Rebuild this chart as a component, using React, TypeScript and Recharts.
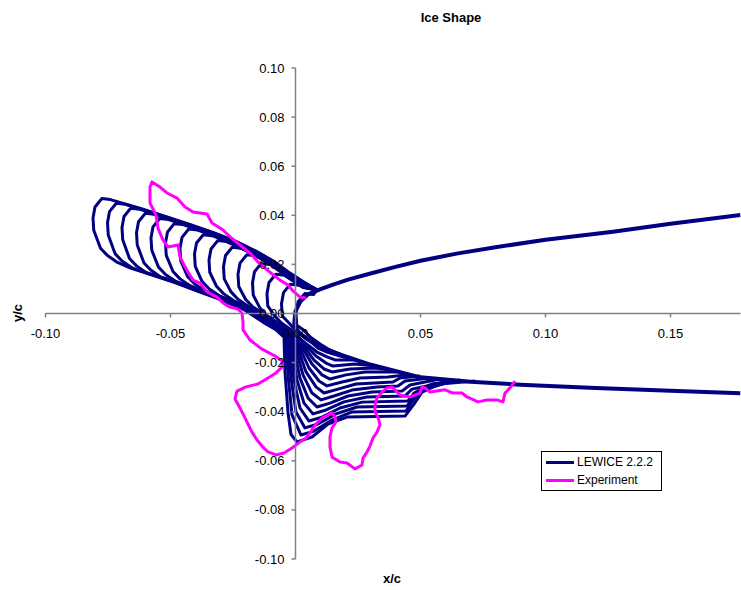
import { LineChart, Line, XAxis, YAxis, ReferenceLine, ReferenceDot } from 'recharts';

type Pt = [number, number];

const FONT = '"Liberation Sans", Arial, sans-serif';
const NAVY = '#000080';
const MAGENTA = '#ff00ff';
const AXIS = '#808080';

const xTicks = [-0.1, -0.05, 0, 0.05, 0.1, 0.15];
const yTicks = [0.1, 0.08, 0.06, 0.04, 0.02, 0, -0.02, -0.04, -0.06, -0.08, -0.1];

// clean airfoil, upper TE -> leading edge -> lower TE
const cleanAirfoil: Pt[] = [
  [0.178, 0.0401], [0.15, 0.0366], [0.127, 0.0333], [0.1, 0.03], [0.08, 0.027], [0.065, 0.0245],
  [0.05, 0.0215], [0.04, 0.019], [0.03, 0.0163], [0.021, 0.0138], [0.015, 0.0118], [0.0098, 0.0098],
  [0.005, 0.0078], [0.002, 0.005], [0.0, 0.001], [-0.0005, -0.004], [0.001, -0.0075], [0.004, -0.01],
  [0.008, -0.0125], [0.015, -0.0157], [0.029, -0.0205], [0.05, -0.026], [0.07, -0.0278], [0.09, -0.029],
  [0.12, -0.0303], [0.15, -0.0315], [0.178, -0.0325],
];

// LEWICE ice layers, outermost first
const layer01: Pt[] = [
  [0.0086, 0.0096], [0.003, 0.013], [-0.003, 0.017], [-0.009, 0.0215], [-0.016, 0.0255], [-0.024, 0.0295],
  [-0.033, 0.033], [-0.042, 0.0362], [-0.052, 0.0395], [-0.062, 0.0428], [-0.074, 0.0464], [-0.0775, 0.0468],
  [-0.0802, 0.0434], [-0.081, 0.0389], [-0.0807, 0.0339], [-0.078, 0.0266], [-0.0752, 0.0236], [-0.0712, 0.0208],
  [-0.066, 0.0185], [-0.057, 0.0155], [-0.048, 0.0125], [-0.039, 0.009], [-0.03, 0.0057], [-0.021, 0.0018],
  [-0.013, -0.0035], [-0.008, -0.0065], [-0.0046, -0.0096], [-0.0042, -0.0238], [-0.003, -0.0403],
  [-0.0018, -0.0493], [0.0006, -0.0523], [0.0066, -0.0503], [0.013, -0.045], [0.0206, -0.0422],
  [0.0438, -0.0418], [0.0474, -0.0369], [0.0506, -0.032], [0.0578, -0.0287], [0.0718, -0.0275],
];
const layer02: Pt[] = [
  [0.0086, 0.0096], [0.003, 0.0128], [-0.003, 0.0168], [-0.009, 0.0213], [-0.016, 0.0253], [-0.024, 0.0293],
  [-0.033, 0.0328], [-0.042, 0.036], [-0.052, 0.0393], [-0.062, 0.0426], [-0.0682, 0.0445], [-0.0717, 0.0449],
  [-0.0744, 0.0415], [-0.0752, 0.037], [-0.0749, 0.032], [-0.0722, 0.0244], [-0.0694, 0.0214], [-0.0654, 0.0186],
  [-0.057, 0.0157], [-0.048, 0.0127], [-0.039, 0.0092], [-0.03, 0.0059], [-0.021, 0.002], [-0.013, -0.0033],
  [-0.008, -0.0063], [-0.004, -0.0097], [-0.003, -0.025], [-0.0014, -0.0413], [0.0022, -0.0495],
  [0.0074, -0.0479], [0.0146, -0.0434], [0.0226, -0.0401], [0.0442, -0.0397], [0.0474, -0.0348],
  [0.0518, -0.0308], [0.0618, -0.0279],
];
const layer03: Pt[] = [
  [0.0086, 0.0096], [0.003, 0.0126], [-0.003, 0.0166], [-0.009, 0.0211], [-0.016, 0.0251], [-0.024, 0.0291],
  [-0.033, 0.0326], [-0.042, 0.0358], [-0.052, 0.0391], [-0.0624, 0.0425], [-0.0659, 0.0429], [-0.0686, 0.0395],
  [-0.0694, 0.035], [-0.0691, 0.03], [-0.0664, 0.0224], [-0.0636, 0.0194], [-0.0596, 0.0166], [-0.048, 0.0129],
  [-0.039, 0.0094], [-0.03, 0.0061], [-0.021, 0.0022], [-0.013, -0.0031], [-0.008, -0.0061], [-0.0034, -0.0098],
  [-0.0018, -0.0262], [0.0002, -0.0401], [0.0038, -0.0466], [0.009, -0.045], [0.0162, -0.0409],
  [0.0246, -0.0381], [0.0446, -0.0377], [0.0474, -0.0336], [0.053, -0.0295], [0.0638, -0.0271],
];
const layer04: Pt[] = [
  [0.0086, 0.0096], [0.003, 0.0124], [-0.003, 0.0164], [-0.009, 0.0209], [-0.016, 0.0249], [-0.024, 0.0289],
  [-0.033, 0.0324], [-0.042, 0.0356], [-0.052, 0.0389], [-0.0566, 0.0404], [-0.0601, 0.0408], [-0.0628, 0.0374],
  [-0.0636, 0.0329], [-0.0633, 0.0279], [-0.0606, 0.0206], [-0.0578, 0.0176], [-0.0538, 0.0148], [-0.048, 0.0131],
  [-0.039, 0.0096], [-0.03, 0.0063], [-0.021, 0.0024], [-0.013, -0.0029], [-0.008, -0.0059], [-0.0028, -0.01],
  [-0.0006, -0.0271], [0.0018, -0.0385], [0.0054, -0.0438], [0.0106, -0.0422], [0.0178, -0.0385],
  [0.0266, -0.0361], [0.045, -0.0356], [0.0474, -0.0324], [0.0546, -0.0287], [0.0658, -0.0271],
];
const layer05: Pt[] = [
  [0.0086, 0.0096], [0.003, 0.0122], [-0.003, 0.0162], [-0.009, 0.0207], [-0.016, 0.0247], [-0.024, 0.0287],
  [-0.033, 0.0322], [-0.042, 0.0354], [-0.0508, 0.0383], [-0.0543, 0.0387], [-0.057, 0.0353], [-0.0578, 0.0308],
  [-0.0575, 0.0258], [-0.0548, 0.0189], [-0.052, 0.0159], [-0.048, 0.0131], [-0.039, 0.0098], [-0.03, 0.0065],
  [-0.021, 0.0026], [-0.013, -0.0027], [-0.008, -0.0057], [-0.0022, -0.0101], [0.0006, -0.0271],
  [0.0034, -0.0365], [0.007, -0.0409], [0.0122, -0.0393], [0.0194, -0.036], [0.0286, -0.034],
  [0.0438, -0.0336], [0.0466, -0.0308], [0.0618, -0.0275],
];
const layer06: Pt[] = [
  [0.0086, 0.0096], [0.003, 0.012], [-0.003, 0.016], [-0.009, 0.0205], [-0.016, 0.0245], [-0.024, 0.0285],
  [-0.033, 0.032], [-0.045, 0.0362], [-0.0485, 0.0366], [-0.0512, 0.0332], [-0.052, 0.0287], [-0.0517, 0.0237],
  [-0.049, 0.0171], [-0.0462, 0.0141], [-0.0422, 0.0113], [-0.039, 0.01], [-0.03, 0.0067], [-0.021, 0.0028],
  [-0.013, -0.0025], [-0.008, -0.0055], [-0.0016, -0.0102], [0.0018, -0.0263], [0.005, -0.0344],
  [0.0086, -0.0381], [0.0138, -0.0365], [0.021, -0.0336], [0.0306, -0.032], [0.0426, -0.0316],
  [0.0458, -0.0291], [0.0578, -0.0267],
];
const layer07: Pt[] = [
  [0.0086, 0.0096], [0.003, 0.0118], [-0.003, 0.0158], [-0.009, 0.0203], [-0.016, 0.0243], [-0.024, 0.0283],
  [-0.033, 0.0318], [-0.0392, 0.034], [-0.0427, 0.0344], [-0.0454, 0.031], [-0.0462, 0.0265], [-0.0459, 0.0215],
  [-0.0432, 0.0151], [-0.0404, 0.0121], [-0.0364, 0.0093], [-0.03, 0.0069], [-0.021, 0.003], [-0.013, -0.0023],
  [-0.008, -0.0053], [-0.001, -0.0103], [0.003, -0.025], [0.0066, -0.0324], [0.0102, -0.0352],
  [0.0154, -0.0336], [0.0226, -0.0312], [0.0326, -0.0299], [0.041, -0.0295], [0.0438, -0.0275], [0.0538, -0.0263],
];
const layer08: Pt[] = [
  [0.0086, 0.0096], [0.003, 0.0116], [-0.003, 0.0156], [-0.009, 0.0201], [-0.016, 0.0241], [-0.024, 0.0281],
  [-0.0334, 0.0317], [-0.0369, 0.0321], [-0.0396, 0.0287], [-0.0404, 0.0242], [-0.0401, 0.0192],
  [-0.0374, 0.0131], [-0.0346, 0.0101], [-0.0306, 0.0073], [-0.021, 0.0032], [-0.013, -0.0021], [-0.008, -0.0051],
  [-0.0004, -0.0104], [0.0042, -0.0238], [0.0082, -0.0299], [0.0114, -0.0324], [0.017, -0.0308],
  [0.0242, -0.0287], [0.039, -0.0279], [0.0418, -0.0263], [0.0498, -0.0255],
];
const layer09: Pt[] = [
  [0.0086, 0.0096], [0.003, 0.0114], [-0.003, 0.0154], [-0.009, 0.0199], [-0.016, 0.0239], [-0.0276, 0.0293],
  [-0.0311, 0.0297], [-0.0338, 0.0263], [-0.0346, 0.0218], [-0.0343, 0.0168], [-0.0316, 0.0111],
  [-0.0288, 0.0081], [-0.0248, 0.0053], [-0.021, 0.0034], [-0.013, -0.0019], [-0.008, -0.0049], [0.0002, -0.0106],
  [0.0054, -0.0222], [0.0094, -0.0275], [0.0126, -0.0295], [0.0186, -0.0279], [0.0258, -0.0263],
  [0.037, -0.0259], [0.0458, -0.0248],
];
const layer10: Pt[] = [
  [0.0086, 0.0096], [0.003, 0.0112], [-0.003, 0.0152], [-0.009, 0.0197], [-0.016, 0.0237], [-0.0218, 0.0266],
  [-0.0253, 0.027], [-0.028, 0.0236], [-0.0288, 0.0191], [-0.0285, 0.0141], [-0.0258, 0.0088],
  [-0.023, 0.0058], [-0.019, 0.003], [-0.013, -0.0017], [-0.008, -0.0047], [0.0008, -0.0107], [0.0066, -0.0206],
  [0.0106, -0.025], [0.0138, -0.0267], [0.0202, -0.025], [0.0278, -0.0238], [0.0418, -0.0238],
];
const layer11: Pt[] = [
  [0.0086, 0.0096], [0.003, 0.011], [-0.003, 0.015], [-0.009, 0.0195], [-0.016, 0.0235], [-0.0195, 0.0239],
  [-0.0222, 0.0205], [-0.023, 0.016], [-0.0227, 0.011], [-0.02, 0.0058], [-0.0172, 0.0028], [-0.0132, 0.0],
  [-0.008, -0.0045], [0.0014, -0.0108], [0.0074, -0.019], [0.0114, -0.0226], [0.0146, -0.0238],
  [0.0218, -0.0226], [0.0318, -0.0222], [0.0378, -0.023],
];
const layer12: Pt[] = [
  [0.0086, 0.0096], [0.003, 0.0108], [-0.003, 0.0148], [-0.0102, 0.02], [-0.0137, 0.0204], [-0.0164, 0.017],
  [-0.0172, 0.0125], [-0.0169, 0.0075], [-0.0142, 0.0022], [-0.0114, -0.0008], [-0.0074, -0.0036],
  [0.002, -0.0109], [0.0082, -0.0173], [0.0122, -0.0202], [0.015, -0.0214], [0.0238, -0.0206], [0.0318, -0.0214],
];
const layer13: Pt[] = [
  [0.0086, 0.0096], [0.003, 0.0106], [-0.0044, 0.0156], [-0.0079, 0.016], [-0.0106, 0.0126], [-0.0114, 0.0081],
  [-0.0111, 0.0031], [-0.0084, -0.0009], [-0.0056, -0.0039], [-0.0016, -0.0067], [0.0026, -0.011],
  [0.0086, -0.0157], [0.0126, -0.0177], [0.0158, -0.0189], [0.0238, -0.0189], [0.029, -0.0206],
];
const layer14: Pt[] = [
  [0.0086, 0.0096], [0.0014, 0.0115], [-0.0021, 0.0119], [-0.0048, 0.0085], [-0.0056, 0.004],
  [-0.0053, -0.001], [-0.0026, -0.0039], [0.0002, -0.0069], [0.0042, -0.0097], [0.009, -0.0141],
  [0.0126, -0.0157], [0.0178, -0.0173], [0.0238, -0.0189],
];
const layer15: Pt[] = [
  [0.0086, 0.0096], [0.0072, 0.0077], [0.0037, 0.0081], [0.001, 0.0047], [0.0002, 0.0002], [0.0005, -0.0048],
  [0.0032, -0.0067], [0.006, -0.0097], [0.01, -0.0125], [0.013, -0.0145], [0.0186, -0.0169],
];

const lewiceLayers: Pt[][] = [
  layer01, layer02, layer03, layer04, layer05, layer06, layer07, layer08,
  layer09, layer10, layer11, layer12, layer13, layer14, layer15,
];

// measured ice tracing
const experiment: Pt[] = [
  [0.0042, 0.0063], [0.0018, 0.0067], [-0.001, 0.0092], [-0.003, 0.0116], [-0.0062, 0.0136], [-0.0094, 0.0161],
  [-0.0122, 0.0185], [-0.015, 0.021], [-0.0182, 0.0246], [-0.0222, 0.0279], [-0.0262, 0.0312], [-0.029, 0.034],
  [-0.0334, 0.0369], [-0.0354, 0.0405], [-0.041, 0.0413], [-0.0442, 0.0434], [-0.0474, 0.047], [-0.0514, 0.0491],
  [-0.0542, 0.0515], [-0.0574, 0.0536], [-0.0582, 0.0515], [-0.0582, 0.045], [-0.0558, 0.0401], [-0.055, 0.0348],
  [-0.053, 0.0299], [-0.051, 0.0271], [-0.047, 0.0279], [-0.0462, 0.023], [-0.0446, 0.0198], [-0.043, 0.0169],
  [-0.041, 0.0136], [-0.0382, 0.0124], [-0.0354, 0.0088], [-0.0314, 0.0067], [-0.029, 0.0043], [-0.0262, 0.0026],
  [-0.023, 0.0018], [-0.0214, 0.0002], [-0.021, -0.0035], [-0.021, -0.0067], [-0.0182, -0.0108],
  [-0.0134, -0.0145], [-0.0082, -0.0173], [-0.0054, -0.0193], [-0.0054, -0.0218], [-0.0078, -0.0242],
  [-0.011, -0.0263], [-0.015, -0.0287], [-0.0198, -0.0299], [-0.0234, -0.0316], [-0.0242, -0.0348],
  [-0.0222, -0.0385], [-0.0206, -0.0417], [-0.019, -0.045], [-0.0174, -0.0483], [-0.0154, -0.0515],
  [-0.0134, -0.054], [-0.011, -0.0564], [-0.0078, -0.0576], [-0.0046, -0.0568], [-0.0014, -0.0548],
  [0.0018, -0.0523], [0.0042, -0.0507], [0.0058, -0.0487], [0.007, -0.0466], [0.0086, -0.0446],
  [0.0106, -0.0426], [0.013, -0.0413], [0.0146, -0.0405], [0.0158, -0.0422], [0.0162, -0.0442],
  [0.0146, -0.0466], [0.0138, -0.0503], [0.0138, -0.0544], [0.0146, -0.0585], [0.0178, -0.0605],
  [0.0206, -0.0609], [0.0238, -0.0633], [0.0266, -0.0617], [0.027, -0.0589], [0.0286, -0.0564],
  [0.0298, -0.054], [0.031, -0.0507], [0.0326, -0.0483], [0.0338, -0.0454], [0.033, -0.0422],
  [0.0318, -0.0401], [0.0318, -0.0373], [0.0326, -0.0344], [0.0346, -0.032], [0.0366, -0.0303],
  [0.0386, -0.0299], [0.0398, -0.0311], [0.0418, -0.0332], [0.0458, -0.034], [0.0498, -0.0324],
  [0.0506, -0.0299], [0.0518, -0.0303], [0.0538, -0.032], [0.0598, -0.0311], [0.063, -0.0324],
  [0.0666, -0.0324], [0.0686, -0.034], [0.073, -0.036], [0.0766, -0.0352], [0.0806, -0.0352],
  [0.083, -0.036], [0.0838, -0.0324], [0.0858, -0.0303], [0.0878, -0.0275],
];

const toRows = (pts: Pt[]) => pts.map(([x, y]) => ({ x, y }));

const fmt = (v: number) => v.toFixed(2);

function XTickMark({ cx, cy, text }: any) {
  return (
    <g>
      <line x1={cx} y1={cy} x2={cx} y2={cy + 4} stroke={AXIS} strokeWidth={1.5} />
      <text x={cx} y={cy + 24} textAnchor="middle" fontSize={13} fontFamily={FONT} fill="#000">
        {text}
      </text>
    </g>
  );
}

function YTickMark({ cx, cy, text }: any) {
  return (
    <g>
      <line x1={cx - 4} y1={cy} x2={cx} y2={cy} stroke={AXIS} strokeWidth={1.5} />
      <text x={cx - 11} y={cy} dy="0.35em" textAnchor="end" fontSize={13} fontFamily={FONT} fill="#000">
        {text}
      </text>
    </g>
  );
}

function LegendBox() {
  const row = (color: string, label: string, top: number) => (
    <div style={{ position: 'absolute', left: 4, top, height: 16, display: 'flex', alignItems: 'center' }}>
      <div style={{ width: 28, height: 3, background: color }} />
      <span style={{ marginLeft: 3, fontSize: 12, lineHeight: '16px' }}>{label}</span>
    </div>
  );
  return (
    <div
      style={{
        position: 'absolute',
        left: 541,
        top: 451,
        width: 119,
        height: 38,
        border: '1px solid #000',
        background: '#fff',
      }}
    >
      {row(NAVY, 'LEWICE 2.2.2', 2)}
      {row(MAGENTA, 'Experiment', 20)}
    </div>
  );
}

export default function App() {
  return (
    <div
      style={{
        position: 'absolute',
        left: 0,
        top: 0,
        width: 741,
        height: 590,
        overflow: 'hidden',
        background: '#fff',
        fontFamily: FONT,
        color: '#000',
      }}
    >
      <LineChart width={741} height={590} margin={{ top: 68, right: 0.5, bottom: 31, left: 45.5 }}>
        <XAxis type="number" dataKey="x" domain={[-0.1, 0.178]} allowDataOverflow hide />
        <YAxis type="number" dataKey="y" domain={[-0.1, 0.1]} allowDataOverflow hide />
        <Line
          data={toRows(cleanAirfoil)}
          dataKey="y"
          type="linear"
          stroke={NAVY}
          strokeWidth={4}
          strokeLinejoin="round"
          dot={false}
          activeDot={false}
          isAnimationActive={false}
        />
        {lewiceLayers.map((pts, i) => (
          <Line
            key={`lw${i}`}
            data={toRows(pts)}
            dataKey="y"
            type="linear"
            stroke={NAVY}
            strokeWidth={3}
            strokeLinejoin="round"
            dot={false}
            activeDot={false}
            isAnimationActive={false}
          />
        ))}
        <Line
          data={toRows(experiment)}
          dataKey="y"
          type="linear"
          stroke={MAGENTA}
          strokeWidth={3}
          strokeLinejoin="round"
          dot={false}
          activeDot={false}
          isAnimationActive={false}
        />
        <ReferenceLine y={0} stroke={AXIS} strokeWidth={1.5} />
        <ReferenceLine x={0} stroke={AXIS} strokeWidth={1.5} />
        {xTicks.map((v) => (
          <ReferenceDot
            key={`xt${v}`}
            x={v}
            y={0}
            r={0}
            ifOverflow="visible"
            shape={(p: any) => <XTickMark cx={p.cx} cy={p.cy} text={fmt(v)} />}
          />
        ))}
        {yTicks.map((v) => (
          <ReferenceDot
            key={`yt${v}`}
            x={0}
            y={v}
            r={0}
            ifOverflow="visible"
            shape={(p: any) => <YTickMark cx={p.cx} cy={p.cy} text={fmt(v)} />}
          />
        ))}
      </LineChart>
      <div
        style={{
          position: 'absolute',
          left: 351,
          top: 10,
          width: 200,
          textAlign: 'center',
          fontSize: 13,
          fontWeight: 'bold',
        }}
      >
        Ice Shape
      </div>
      <div
        style={{
          position: 'absolute',
          left: 342,
          top: 571,
          width: 100,
          textAlign: 'center',
          fontSize: 13,
          fontWeight: 'bold',
        }}
      >
        x/c
      </div>
      <div
        style={{
          position: 'absolute',
          left: -2,
          top: 305,
          width: 40,
          height: 16,
          lineHeight: '16px',
          textAlign: 'center',
          fontSize: 13,
          fontWeight: 'bold',
          transform: 'rotate(-90deg)',
        }}
      >
        y/c
      </div>
      <LegendBox />
    </div>
  );
}
